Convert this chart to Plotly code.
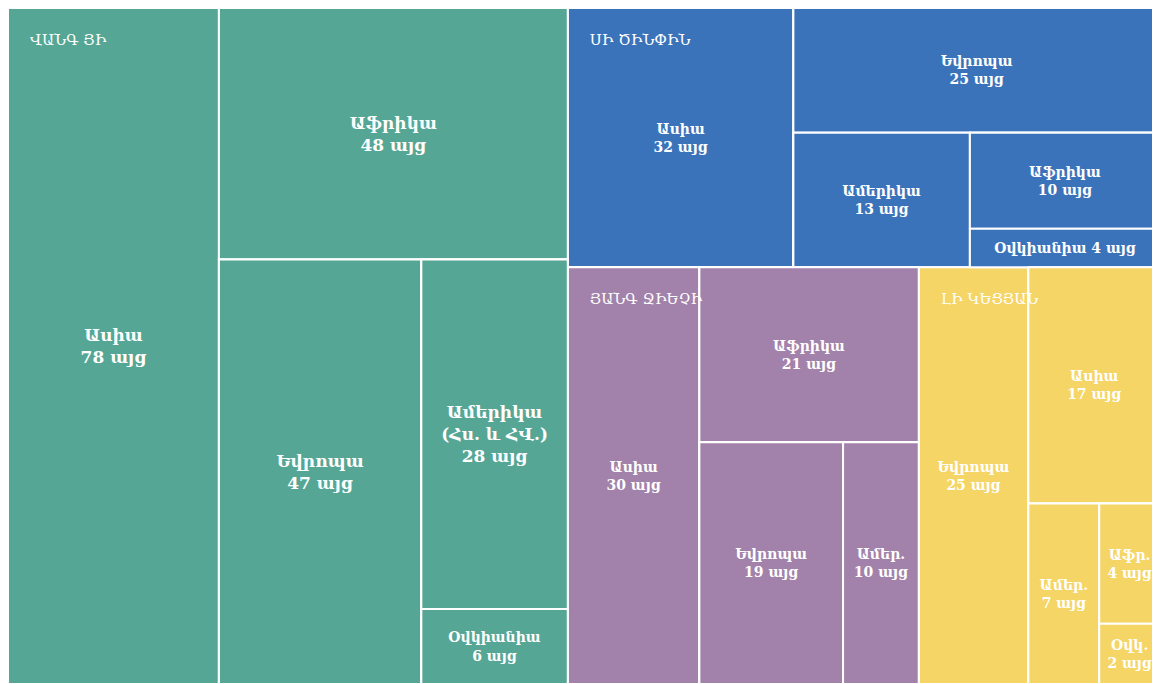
import plotly.graph_objects as go

# ---------------- data ----------------
politicians = ["ՎԱՆԳ ՅԻ", "ՍԻ ԾԻՆՓԻՆ", "ՅԱՆԳ ՋԻԵՉԻ", "ԼԻ ԿԵՑՅԱՆ"]

wang_regions = ["Ասիա", "Աֆրիկա", "Եվրոպա", "Ամերիկա<br>(Հս. և ՀՎ.)", "Օվկիանիա"]
wang_values = [78, 48, 47, 28, 6]

xi_regions = ["Ասիա", "Եվրոպա", "Ամերիկա", "Աֆրիկա", "Օվկիանիա"]
xi_values = [32, 25, 13, 10, 4]

yang_regions = ["Ասիա", "Աֆրիկա", "Եվրոպա", "Ամեր."]
yang_values = [30, 21, 19, 10]

li_regions = ["Եվրոպա", "Ասիա", "Ամեր.", "Աֆր.", "Օվկ."]
li_values = [25, 17, 7, 4, 2]

unit = "այց"

# ---------------- styles ----------------
group_colors = ["#56A695", "#3B73BA", "#A282AA", "#F5D566"]
FONT = "DejaVu Serif"
CLEAR = "rgba(0,0,0,0)"

regions_all = [wang_regions, xi_regions, yang_regions, li_regions]
values_all = [wang_values, xi_values, yang_values, li_values]
leaf_sizes = [[17, 17, 17, 17, 14], [14] * 5, [14] * 4, [14] * 5]
one_line = {(1, 4)}  # leaf whose label and value sit on one line


def build(with_leaves):
    """Hierarchy with invisible wrapper nodes so slice-dice tiling
    reproduces the reference arrangement."""
    ids, labels, parents, values, texts, colors, sizes = [], [], [], [], [], [], []
    wrap_col = "white" if with_leaves else CLEAR

    def add(i, lab, par, val, txt, col, size):
        ids.append(i); labels.append(lab); parents.append(par)
        values.append(val); texts.append(txt); colors.append(col); sizes.append(size)

    def add_chain(k, pid):
        regs, vals = regions_all[k], values_all[k]
        col = group_colors[k]
        parent = pid
        n = len(regs)
        for i in range(n):
            sep = " " if (k, i) in one_line else "<br>"
            add(f"p{k}-{i}", regs[i].replace("<br>", " "), parent, vals[i],
                f"{regs[i]}{sep}{vals[i]} {unit}", col, leaf_sizes[k][i])
            if i < n - 2:
                gid = f"p{k}-g{i}"
                add(gid, "g" + gid, parent, 0, "", col, 10)
                parent = gid

    wrap_parent = {0: "W0", 1: "R1", 2: "Yw", 3: "Lw"}
    add("root", "root", "", 0, "", wrap_col, 10)
    add("W0", "W0", "root", 0, "", wrap_col, 10)
    for k in range(4):
        if k == 1:
            add("R1", "R1", "root", 0, "", wrap_col, 10)
        if k == 2:
            add("R2", "R2", "R1", 0, "", wrap_col, 10)
            add("Yw", "Yw", "R2", 0, "", wrap_col, 10)
        if k == 3:
            add("Lw", "Lw", "R2", 0, "", wrap_col, 10)
        pid = f"P{k}"
        if with_leaves:
            add(pid, politicians[k], wrap_parent[k], 0, "", group_colors[k], 10)
            add_chain(k, pid)
        else:
            add(pid, politicians[k], wrap_parent[k], sum(values_all[k]),
                "\u00a0<br>\u00a0\u00a0\u00a0\u00a0" + politicians[k], CLEAR, 15)
    return dict(ids=ids, labels=labels, parents=parents, values=values,
                text=texts, colors=colors, sizes=sizes)


common = dict(
    branchvalues="remainder",
    sort=False,
    tiling=dict(packing="slice-dice", pad=0),
    pathbar=dict(visible=False),
    textinfo="text",
)

d1 = build(True)
t1 = go.Treemap(
    ids=d1["ids"], labels=d1["labels"], parents=d1["parents"], values=d1["values"],
    text=d1["text"],
    marker=dict(colors=d1["colors"], line=dict(color="white", width=2),
                pad=dict(t=0, l=0, r=0, b=0)),
    textposition="middle center",
    textfont=dict(family=FONT, color="white", size=d1["sizes"], weight="bold"),
    **common,
)

d2 = build(False)
t2 = go.Treemap(
    ids=d2["ids"], labels=d2["labels"], parents=d2["parents"], values=d2["values"],
    text=d2["text"],
    marker=dict(colors=d2["colors"], line=dict(color=CLEAR, width=0),
                pad=dict(t=0, l=0, r=0, b=0)),
    textposition="top left",
    textfont=dict(family=FONT, color="white", size=15),
    hoverinfo="skip",
    **common,
)

fig = go.Figure([t1, t2])
fig.update_layout(
    width=1152, height=676,
    margin=dict(l=0, r=0, t=0, b=0),
    paper_bgcolor="white",
)
fig.write_html("out.html")
